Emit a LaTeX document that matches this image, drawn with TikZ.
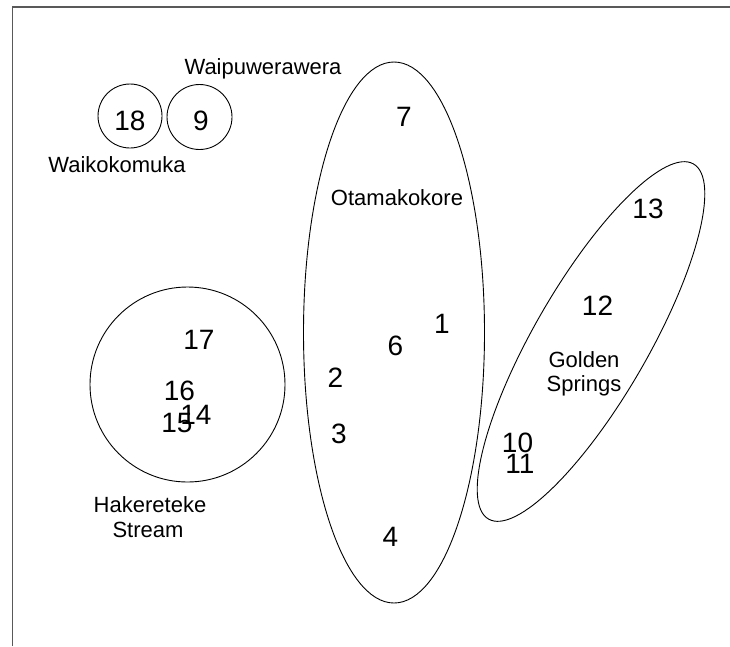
\documentclass[tikz,border=0pt]{standalone}
\usepackage{fontspec}
\setmainfont{Liberation Sans}
\begin{document}
\begin{tikzpicture}[x=1pt,y=-1pt,
  num/.style={anchor=base,inner sep=0pt,font=\fontsize{28}{30}\selectfont},
  lab/.style={anchor=base,inner sep=0pt,font=\fontsize{22}{25}\selectfont,align=center},
  grp/.style={draw=black,line width=0.9pt},
  frame/.style={draw=black!65,line width=1.5pt}]
\useasboundingbox (0,0) rectangle (730,646);
\fill[white] (0,0) rectangle (730,646);
% frame
\coordinate (fbl) at (12.5,646);
\coordinate (ftl) at (12.5,7);
\coordinate (ftr) at (730,7);
\draw[frame] (fbl) -- (ftl) -- (ftr);
% groups
\draw[grp] (130,116) circle [radius=32];
\draw[grp] (199.5,117) circle [radius=32.5];
\draw[grp] (187.5,384.5) circle [radius=97.5];
\draw[grp] (394,332.5) ellipse [x radius=90.5, y radius=270.5];
\draw[grp, rotate around={60:(591,341.5)}] (591,341.5) ellipse [x radius=205, y radius=57];
% labels
\node[lab] (waipu) at (263,74) {Waipuwerawera};
\node[lab] (waiko) at (117,172) {Waikokomuka};
\node[lab] (otama) at (397,205) {Otamakokore};
\node[lab] (gold) at (584,367) {Golden};
\node[lab] (spr) at (584,391) {Springs};
\node[lab] (hake) at (150,512) {Hakereteke};
\node[lab] (strm) at (148,537) {Stream};
% numbers
\node[num] (n18) at (130,130) {18};
\node[num] (n9) at (201,130) {9};
\node[num] (n7) at (404,126.5) {7};
\node[num] (n13) at (648,218) {13};
\node[num] (n12) at (597.5,315) {12};
\node[num] (n17) at (199,349) {17};
\node[num] (n16) at (179.5,400) {16};
\node[num] (n14) at (196,424) {14};
\node[num] (n15) at (177,432) {15};
\node[num] (n10) at (517.5,452) {10};
\node[num] (n11) at (520,473) {11};
\node[num] (n1) at (442,333) {1};
\node[num] (n6) at (395.5,355) {6};
\node[num] (n2) at (335.5,387) {2};
\node[num] (n3) at (339,443) {3};
\node[num] (n4) at (390.5,546) {4};
\end{tikzpicture}
\end{document}
